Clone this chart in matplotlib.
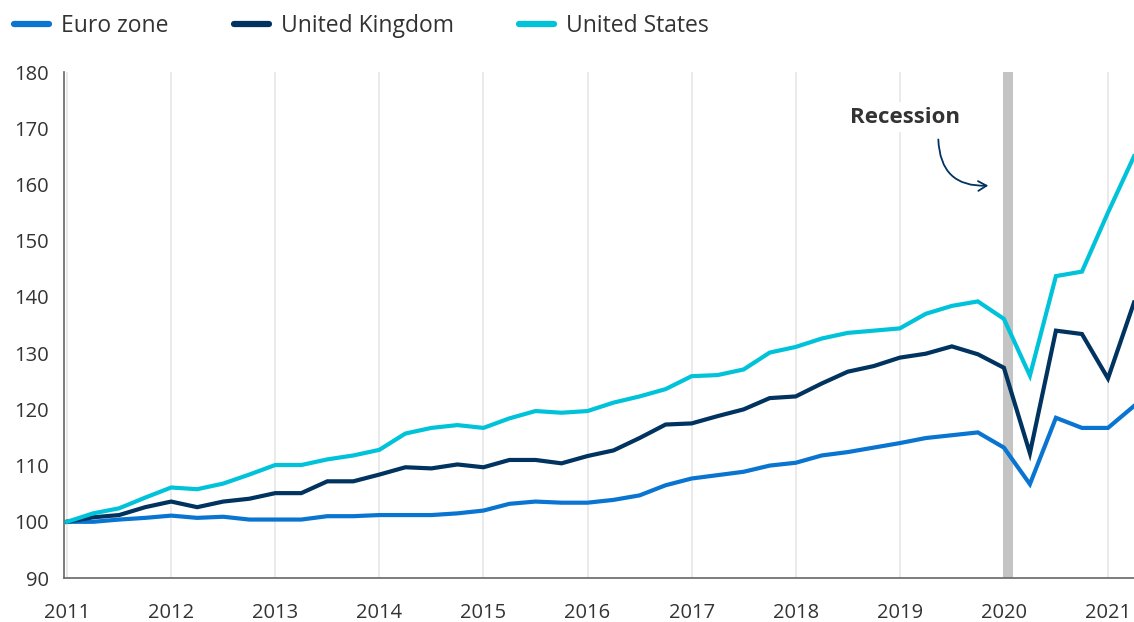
import numpy as np
import matplotlib
matplotlib.use("Agg")
import matplotlib.pyplot as plt

plt.rcParams["font.family"] = ["Open Sans", "DejaVu Sans"]

# quarterly index, 2011 Q1 = 100, 2011 Q1 .. 2021 Q2
euro_zone = [100.0, 100.0, 100.4, 100.7, 101.1, 100.7, 100.9, 100.4, 100.4, 100.4,
             101.0, 101.0, 101.2, 101.2, 101.2, 101.5, 102.0, 103.2, 103.6, 103.4,
             103.4, 103.9, 104.7, 106.5, 107.7, 108.3, 108.9, 110.0, 110.5, 111.8,
             112.4, 113.2, 114.0, 114.9, 115.4, 115.9, 113.2, 106.7, 118.5, 116.7,
             116.7, 120.6]
united_kingdom = [100.0, 100.8, 101.2, 102.6, 103.6, 102.6, 103.6, 104.1, 105.1, 105.1,
                  107.2, 107.2, 108.4, 109.7, 109.5, 110.2, 109.7, 111.0, 111.0, 110.4,
                  111.7, 112.7, 114.9, 117.3, 117.5, 118.8, 120.0, 122.0, 122.3, 124.6,
                  126.7, 127.7, 129.2, 129.9, 131.2, 129.8, 127.4, 112.2, 134.0, 133.4,
                  125.5, 139.0]
united_states = [100.0, 101.5, 102.4, 104.3, 106.1, 105.8, 106.8, 108.4, 110.1, 110.1,
                 111.1, 111.8, 112.8, 115.7, 116.7, 117.2, 116.7, 118.4, 119.7, 119.4,
                 119.7, 121.2, 122.3, 123.6, 125.9, 126.1, 127.1, 130.1, 131.1, 132.6,
                 133.6, 134.0, 134.4, 137.0, 138.4, 139.2, 136.1, 126.0, 143.7, 144.5,
                 155.0, 165.0]

series_names = ["Euro zone", "United Kingdom", "United States"]
series_colors = ["#0A75D0", "#00335F", "#00C3DA"]
years = list(range(2011, 2022))
y_ticks = list(range(90, 181, 10))
recession = (2019.99, 2020.09)

start_year = 2011
x = start_year + np.arange(len(euro_zone)) / 4.0

fig = plt.figure(figsize=(11.34, 6.22), dpi=100)
ax = fig.add_axes([0.0564, 0.0707, 0.9436, 0.8135])

# year gridlines, vertical only
for yr in years:
    ax.axvline(yr, color="#EAEAEA", lw=1.4, zorder=0)

ax.axvspan(recession[0], recession[1], color="#C4C4C4", lw=0, zorder=1)

for vals, name, col in zip([euro_zone, united_kingdom, united_states],
                           series_names, series_colors):
    ax.plot(x, vals, color=col, lw=3.0, solid_joinstyle="miter",
            label=name, zorder=3)

ax.set_xlim(2010.97, 2021.25)
ax.set_ylim(90, 180)
ax.set_xticks(years)
ax.set_yticks(y_ticks)
ax.tick_params(axis="both", length=0, labelsize=14.5, colors="#333333")
ax.tick_params(axis="x", pad=18)
ax.tick_params(axis="y", pad=11)
for s in ["top", "right"]:
    ax.spines[s].set_visible(False)
for s in ["left", "bottom"]:
    ax.spines[s].set_color("#666666")
    ax.spines[s].set_linewidth(1.2)

# recession callout
ax.text(2019.05, 172.0, "Recession", fontsize=16, fontweight="bold",
        color="#333333", ha="center", va="center", zorder=4,
        bbox=dict(facecolor="white", edgecolor="none", pad=3))
ax.annotate("", xy=(2019.85, 159.8), xytext=(2019.37, 168.0),
            arrowprops=dict(arrowstyle="->,head_length=0.6,head_width=0.35",
                            connectionstyle="arc3,rad=0.5", color="#00335F",
                            lw=1.3, shrinkA=0, shrinkB=0), zorder=4)

leg_lines = [plt.Line2D([], [], color=c, lw=4.5, solid_capstyle="round")
             for c in series_colors]
fig.legend(leg_lines, series_names, loc="upper left", bbox_to_anchor=(-0.002, 1.004),
           ncol=3, frameon=False, fontsize=16.5, handlelength=1.55,
           handletextpad=0.5, columnspacing=2.85, labelcolor="#333333",
           borderaxespad=0.3)

fig.savefig("out.png", dpi=100)
